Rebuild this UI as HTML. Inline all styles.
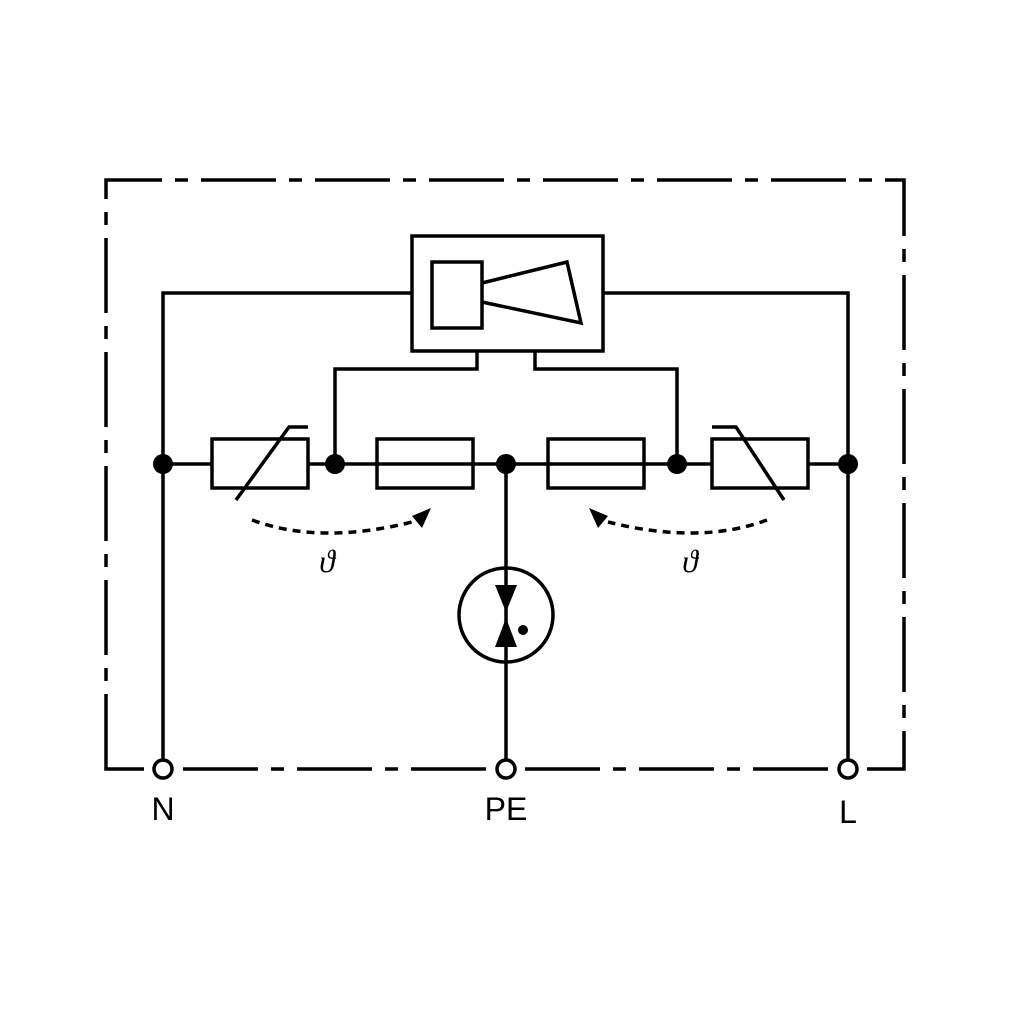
<!DOCTYPE html>
<html><head><style>html,body{margin:0;padding:0;background:#fff}svg{display:block}</style></head>
<body>
<svg width="1010" height="1010" viewBox="0 0 1010 1010" xmlns="http://www.w3.org/2000/svg">
<g fill="none" stroke="#000" stroke-width="3.5">
<path d="M106 769 L106 180 L904 180 L904 769 Z" stroke-dasharray="75 13 13 13"/>
<rect x="412" y="236" width="191" height="115"/>
<rect x="432" y="262" width="50" height="66"/>
<path d="M482 283 L567 262 L581 323 L482 302"/>
<path d="M412 293 H163 V760 M603 293 H848 V760"/>
<path d="M477 351 V369 H335 V464 M535 351 V369 H677 V464"/>
<path d="M163 464 H212 M308 464 H712 M808 464 H848"/>
<rect x="212" y="439" width="96" height="49"/>
<path d="M236 500 L289 427 H308"/>
<rect x="377" y="439" width="96" height="49"/>
<rect x="548" y="439" width="96" height="49"/>
<path d="M712 427 H736 L784 500"/>
<rect x="712" y="439" width="96" height="49"/>
<path d="M506 464 V760"/>
<circle cx="506" cy="615" r="47"/>
<path d="M252 520 Q320 545 412 522" stroke-dasharray="8 6"/>
<path d="M767 520 Q700 545 608 522" stroke-dasharray="8 6"/>
</g>
<g fill="#fff" stroke="#000" stroke-width="3.5">
<circle cx="163" cy="769" r="9"/>
<circle cx="506" cy="769" r="9"/>
<circle cx="848" cy="769" r="9"/>
</g>
<g fill="#000">
<circle cx="163" cy="464" r="10"/><circle cx="335" cy="464" r="10"/><circle cx="506" cy="464" r="10"/><circle cx="677" cy="464" r="10"/><circle cx="848" cy="464" r="10"/>
<path d="M495 585 H517 L506 612 Z"/>
<path d="M495 647 H517 L506 618 Z"/>
<circle cx="523" cy="630" r="5"/>
<path d="M431 508 L412 516 L422 528 Z"/>
<path d="M589 508 L608 516 L598 528 Z"/>
</g>
<g font-family="Liberation Sans Narrow, Liberation Sans, sans-serif" font-size="32" text-anchor="middle" fill="#000">
<text x="163" y="820">N</text><text x="506" y="820">PE</text><text x="848" y="823">L</text>
</g>
<g font-family="Liberation Serif, serif" font-size="32" font-style="italic" text-anchor="middle" fill="#000">
<text x="327" y="572">ϑ</text>
<text x="690" y="572">ϑ</text>
</g>
</svg>
</body></html>
